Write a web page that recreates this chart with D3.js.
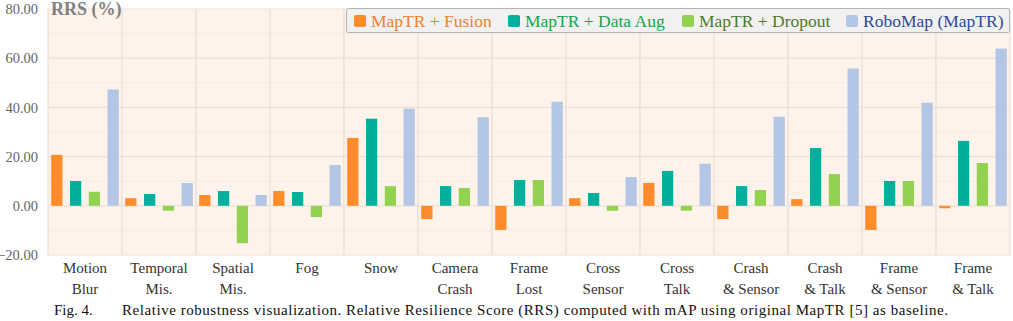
<!DOCTYPE html>
<html>
<head>
<meta charset="utf-8">
<script src="https://cdn.jsdelivr.net/npm/d3@7"></script>
<style>
  body { margin: 0; background: #ffffff; }
</style>
</head>
<body>
<script>
// chart data
var CATEGORIES = [
  ["Motion", "Blur"], ["Temporal", "Mis."], ["Spatial", "Mis."], ["Fog"], ["Snow"],
  ["Camera", "Crash"], ["Frame", "Lost"], ["Cross", "Sensor"], ["Cross", "Talk"],
  ["Crash", "& Sensor"], ["Crash", "& Talk"], ["Frame", "& Sensor"], ["Frame", "& Talk"]
];
var SERIES = ["MapTR + Fusion", "MapTR + Data Aug", "MapTR + Dropout", "RoboMap (MapTR)"];
var FUSION   = [20.7, 3.1, 4.4, 6.0, 27.6, -5.4, -9.8, 3.1, 9.3, -5.4, 2.7, -9.8, -1.0];
var DATA_AUG = [10.1, 4.8, 6.0, 5.6, 35.4, 8.0, 10.5, 5.2, 14.2, 8.0, 23.5, 10.1, 26.4];
var DROPOUT  = [5.7, -2.0, -15.2, -4.6, 8.0, 7.2, 10.5, -2.0, -2.0, 6.4, 12.9, 10.1, 17.4];
var ROBOMAP  = [47.3, 9.3, 4.4, 16.6, 39.5, 36.0, 42.3, 11.7, 17.1, 36.2, 55.8, 41.9, 63.9];
var Y_TICKS = [-20, 0, 20, 40, 60, 80];
var Y_MINOR = [-10, 10, 30, 50, 70];

var BAR_COLORS  = ["#ff8c2b", "#00b09c", "#93d150", "#b4c6e6"];
var TEXT_COLORS = ["#f0822e", "#10a84f", "#4f7a28", "#2f4a9a"];
var SERIF = "'Liberation Serif'";

var WIDTH = 1013, HEIGHT = 321;
var PLOT_LEFT = 48, PLOT_RIGHT = 1010, PLOT_TOP = 9, PLOT_BOTTOM = 255;

var svg = d3.select("body").append("svg")
    .attr("width", WIDTH).attr("height", HEIGHT)
    .attr("font-family", SERIF);

var x0 = d3.scaleBand()
    .domain(d3.range(CATEGORIES.length))
    .range([PLOT_LEFT, PLOT_RIGHT])
    .padding(0);

var x1 = d3.scaleBand()
    .domain(d3.range(SERIES.length))
    .range([0, x0.bandwidth()])
    .paddingInner(0.4)
    .paddingOuter(0.17);

var y = d3.scaleLinear().domain([-20, 80]).range([PLOT_BOTTOM, PLOT_TOP]);

// plot background
svg.append("rect")
    .attr("x", PLOT_LEFT).attr("y", PLOT_TOP)
    .attr("width", PLOT_RIGHT - PLOT_LEFT).attr("height", PLOT_BOTTOM - PLOT_TOP)
    .attr("fill", "#fdf3ea");

// minor grid
svg.append("g").selectAll("line").data(Y_MINOR).join("line")
    .attr("x1", PLOT_LEFT).attr("x2", PLOT_RIGHT)
    .attr("y1", d => y(d)).attr("y2", d => y(d))
    .attr("stroke", "#f7ece4").attr("stroke-width", 1);

// major grid
svg.append("g").selectAll("line").data(Y_TICKS).join("line")
    .attr("x1", PLOT_LEFT).attr("x2", PLOT_RIGHT)
    .attr("y1", d => y(d)).attr("y2", d => y(d))
    .attr("stroke", "#ebe1da").attr("stroke-width", 1.2);

// vertical category separators
svg.append("g").selectAll("line").data(d3.range(CATEGORIES.length + 1)).join("line")
    .attr("x1", d => PLOT_LEFT + d * x0.bandwidth()).attr("x2", d => PLOT_LEFT + d * x0.bandwidth())
    .attr("y1", PLOT_TOP).attr("y2", PLOT_BOTTOM)
    .attr("stroke", "#e8ddd6").attr("stroke-width", 1.2);

// y axis
var yAxis = svg.append("g")
    .attr("transform", "translate(" + PLOT_LEFT + ",0)")
    .call(d3.axisLeft(y).tickValues(Y_TICKS).tickSize(0).tickPadding(10).tickFormat(d3.format(".2f")));
yAxis.select(".domain").remove();
yAxis.attr("font-family", SERIF);
yAxis.selectAll("text")
    .attr("fill", "#666666")
    .attr("font-family", SERIF)
    .attr("font-size", 14.5);

// bars
var allValues = [FUSION, DATA_AUG, DROPOUT, ROBOMAP];
var groups = svg.append("g").selectAll("g").data(CATEGORIES).join("g")
    .attr("transform", (d, i) => "translate(" + x0(i) + ",0)");

groups.selectAll("rect")
    .data((d, i) => allValues.map((vals, s) => ({ s: s, v: vals[i] })))
    .join("rect")
    .attr("x", d => x1(d.s))
    .attr("width", x1.bandwidth())
    .attr("y", d => y(Math.max(0, d.v)))
    .attr("height", d => Math.abs(y(d.v) - y(0)))
    .attr("fill", d => BAR_COLORS[d.s]);

// category labels
var catLabels = svg.append("g").selectAll("text").data(CATEGORIES).join("text")
    .attr("x", (d, i) => x0(i) + x0.bandwidth() / 2)
    .attr("y", 273)
    .attr("text-anchor", "middle")
    .attr("fill", "#333333")
    .attr("font-family", SERIF)
    .attr("font-size", 15);
catLabels.selectAll("tspan").data(d => d).join("tspan")
    .attr("x", function () { return d3.select(this.parentNode).attr("x"); })
    .attr("dy", (d, i) => i === 0 ? 0 : 21)
    .text(d => d);

// axis title
svg.append("text")
    .attr("x", 51).attr("y", 15)
    .attr("fill", "#808080")
    .attr("font-family", SERIF)
    .attr("font-size", 18)
    .attr("font-weight", "bold")
    .text("RRS (%)");

// legend
var legend = svg.append("g");
legend.append("rect")
    .attr("x", 346.5).attr("y", 8.5).attr("width", 663).attr("height", 24)
    .attr("rx", 2)
    .attr("fill", "#f1f1f1").attr("stroke", "#b3b3b3");

var LEGEND_X = [354, 508, 682, 846];
var items = legend.selectAll("g.item").data(SERIES).join("g")
    .attr("class", "item")
    .attr("transform", (d, i) => "translate(" + LEGEND_X[i] + ",0)");
items.append("rect")
    .attr("x", 0).attr("y", 15).attr("width", 12).attr("height", 12).attr("rx", 2)
    .attr("fill", (d, i) => BAR_COLORS[i]);
items.append("text")
    .attr("x", 17).attr("y", 27)
    .attr("fill", (d, i) => TEXT_COLORS[i])
    .attr("font-family", SERIF)
    .attr("font-size", 17.5)
    .text(d => d);

// caption
svg.append("text")
    .attr("x", 54).attr("y", 315)
    .attr("fill", "#111")
    .attr("font-family", SERIF)
    .attr("font-size", 15)
    .text("Fig. 4.");
svg.append("text")
    .attr("x", 122).attr("y", 315)
    .attr("fill", "#111")
    .attr("font-family", SERIF)
    .attr("font-size", 15)
    .attr("textLength", 826)
    .attr("lengthAdjust", "spacing")
    .text("Relative robustness visualization. Relative Resilience Score (RRS) computed with mAP using original MapTR [5] as baseline.");
</script>
</body>
</html>
